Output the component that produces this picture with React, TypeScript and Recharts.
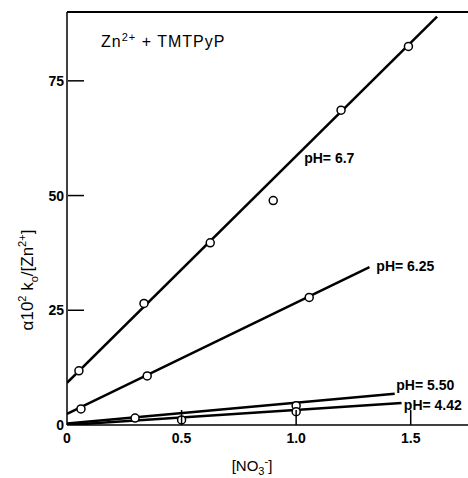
import { ComposedChart, Line, Scatter, XAxis, YAxis, ReferenceLine, ReferenceDot } from 'recharts'

// measured points, per pH
const pts67 = [
  { x: 0.052, y: 11.8 },
  { x: 0.336, y: 26.5 },
  { x: 0.625, y: 39.7 },
  { x: 0.9, y: 48.9 },
  { x: 1.196, y: 68.6 },
  { x: 1.49, y: 82.5 }
]
const pts625 = [
  { x: 0.061, y: 3.5 },
  { x: 0.35, y: 10.7 },
  { x: 1.057, y: 27.8 }
]
const pts550 = [
  { x: 0.297, y: 1.5 },
  { x: 1.0, y: 4.2 }
]
const pts442 = [
  { x: 0.5, y: 1.1 },
  { x: 1.0, y: 2.9 }
]

// fitted lines (end points)
const fit67 = [{ x: 0, y: 9.2 }, { x: 1.615, y: 89 }]
const fit625 = [{ x: 0, y: 2.4 }, { x: 1.32, y: 34.4 }]
const fit550 = [{ x: 0, y: 0.3 }, { x: 1.43, y: 6.8 }]
const fit442 = [{ x: 0, y: 0 }, { x: 1.46, y: 4.8 }]

const xTicks = [0, 0.5, 1.0, 1.5]
const xTickLabels = ['0', '0.5', '1.0', '1.5']
const yTicks = [0, 25, 50, 75]

const labels = [
  { x: 1.035, y: 58.1, text: 'pH= 6.7' },
  { x: 1.35, y: 34.6, text: 'pH= 6.25' },
  { x: 1.437, y: 8.8, text: 'pH= 5.50' },
  { x: 1.47, y: 4.4, text: 'pH= 4.42' }
]

const font = '"Liberation Sans", Arial, sans-serif'

const YTick = (props: any) => {
  const { x, y, payload } = props
  return (
    <g>
      {payload.value !== 0 && (
        <line x1={x + 4} x2={x + 20} y1={y} y2={y} stroke="#000" strokeWidth={1.5} />
      )}
      <text x={x} y={y} dy={5} textAnchor="end" fontSize={14} fontWeight="bold" fontFamily={font} fill="#000">
        {payload.value}
      </text>
    </g>
  )
}

const XTick = (props: any) => {
  const { x, y, payload, index } = props
  return (
    <g>
      {payload.value !== 0 && (
        <line x1={x} x2={x} y1={y} y2={y - 15} stroke="#000" strokeWidth={1.5} />
      )}
      <text x={x} y={y} dy={18} textAnchor="middle" fontSize={14} fontWeight="bold" fontFamily={font} fill="#000">
        {xTickLabels[index]}
      </text>
    </g>
  )
}

const PhLabel = (text: string) => (props: any) => {
  const { viewBox } = props
  return (
    <text x={viewBox.x} y={viewBox.y} dy={5} fontSize={14} fontWeight="bold" fontFamily={font} fill="#000">
      {text}
    </text>
  )
}

export default function App() {
  const lineProps = {
    dataKey: 'y',
    stroke: '#000',
    strokeWidth: 2.5,
    dot: false,
    isAnimationActive: false,
    type: 'linear' as const
  }
  const dotProps = {
    dataKey: 'y',
    fill: '#fff',
    stroke: '#000',
    strokeWidth: 1.5,
    isAnimationActive: false,
    shape: (p: any) => <circle cx={p.cx} cy={p.cy} r={4} fill="#fff" stroke="#000" strokeWidth={1.5} />
  }
  return (
    <div style={{ position: 'absolute', left: 0, top: 0, width: 468, height: 478, background: '#fff' }}>
      <ComposedChart width={468} height={478} margin={{ top: 12, right: 0, bottom: 52, left: 66 }}>
        <XAxis
          type="number"
          dataKey="x"
          domain={[0, 1.75]}
          ticks={xTicks}
          height={1}
          tickSize={0}
          tickMargin={0}
          tick={<XTick />}
          stroke="#000"
          strokeWidth={1.5}
          allowDataOverflow
        />
        <YAxis
          type="number"
          dataKey="y"
          domain={[0, 90]}
          ticks={yTicks}
          width={1}
          tickSize={0}
          tickMargin={3}
          tick={<YTick />}
          stroke="#000"
          strokeWidth={1.5}
          allowDataOverflow
        />
        <ReferenceLine y={90} stroke="#000" strokeWidth={2} />
        <Line data={fit67} {...lineProps} />
        <Line data={fit625} {...lineProps} />
        <Line data={fit550} {...lineProps} />
        <Line data={fit442} {...lineProps} />
        <Scatter data={pts67} {...dotProps} />
        <Scatter data={pts625} {...dotProps} />
        <Scatter data={pts550} {...dotProps} />
        <Scatter data={pts442} {...dotProps} />
        {labels.map((l) => (
          <ReferenceDot key={l.text} x={l.x} y={l.y} r={0} fill="none" stroke="none" label={PhLabel(l.text)} />
        ))}
      </ComposedChart>
      <div style={{ position: 'absolute', left: 101, top: 31, fontFamily: font, fontSize: 16, letterSpacing: 1 }}>
        Zn<sup style={{ fontSize: 11 }}>2+</sup> + TMTPyP
      </div>
      <div
        style={{
          position: 'absolute',
          left: 28,
          top: 280,
          transform: 'translate(-50%, -50%) rotate(-90deg)',
          whiteSpace: 'nowrap',
          fontFamily: font,
          fontSize: 17
        }}
      >
        α10<sup style={{ fontSize: 11 }}>2</sup> k<sub style={{ fontSize: 11 }}>o</sub>/[Zn<sup style={{ fontSize: 11 }}>2+</sup>]
      </div>
      <div
        style={{
          position: 'absolute',
          left: 252,
          top: 466,
          transform: 'translate(-50%, -50%)',
          whiteSpace: 'nowrap',
          fontFamily: font,
          fontSize: 15
        }}
      >
        [NO<sub style={{ fontSize: 11 }}>3</sub><sup style={{ fontSize: 11 }}>-</sup>]
      </div>
    </div>
  )
}
